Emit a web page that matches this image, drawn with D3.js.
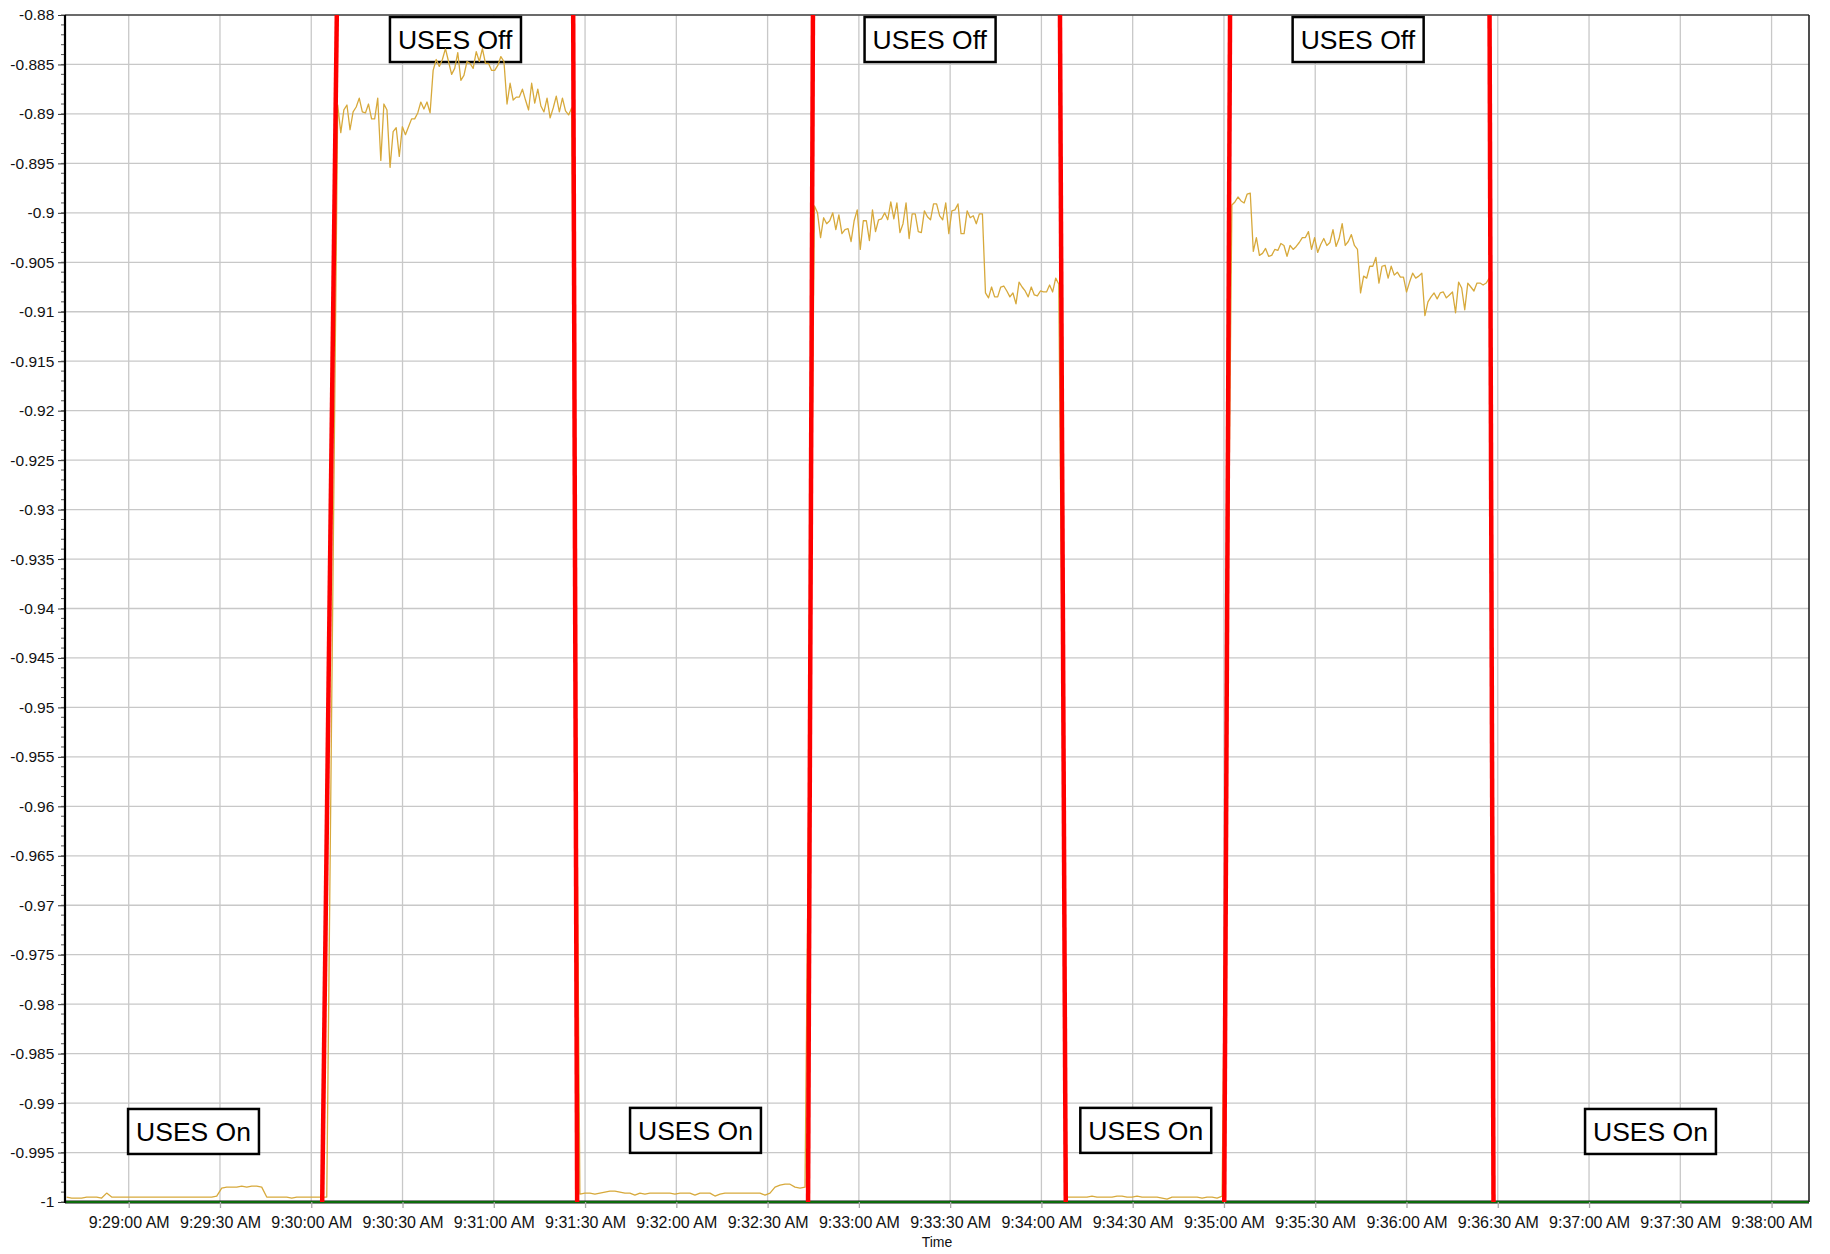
<!DOCTYPE html>
<head>
<meta charset="utf-8">
<script src="https://d3js.org/d3.v7.min.js"></script>
<style>
body { margin: 0; background: #fff; font-family: "Liberation Sans", Arial, sans-serif; }
</style>
</head>
<body>
<svg></svg>
<script>
    // all times are seconds after 9:29:00 AM
    var segStart = [-20.4, 68.7, 148.3, 225.4, 308.4, 362.6];
    var segEnd   = [65.1, 145.6, 222.3, 305.7, 359.4, 447.2];

    var usesOn1 = [-0.9995, -0.9996, -0.9996, -0.9996, -0.9995, -0.9995, -0.9995, -0.9996, -0.9991, -0.9995, -0.9995,
        -0.9995, -0.9995, -0.9995, -0.9995, -0.9995, -0.9995, -0.9995, -0.9995, -0.9995, -0.9995,
        -0.9995, -0.9995, -0.9995, -0.9995, -0.9995, -0.9995, -0.9995, -0.9995, -0.9995,
        -0.9994, -0.9986, -0.9985, -0.9985, -0.9985, -0.9984, -0.9985, -0.9984, -0.9984, -0.9985,
        -0.9995, -0.9995, -0.9995, -0.9995, -0.9995, -0.9996, -0.9995, -0.9995, -0.9995, -0.9995, -0.9995, -0.9995, -0.9995];
    var usesOff1 = [-0.8891, -0.8919, -0.8896, -0.8891, -0.8916, -0.8898, -0.8893, -0.8884, -0.8898, -0.8899,
        -0.8890, -0.8905, -0.8905, -0.8884, -0.8947, -0.8890, -0.8896, -0.8954, -0.8918, -0.8914,
        -0.8943, -0.8913, -0.8921, -0.8913, -0.8905, -0.8905, -0.8899, -0.8888, -0.8895, -0.8888,
        -0.8899, -0.8856, -0.8845, -0.8852, -0.8845, -0.8834, -0.8847, -0.8860, -0.8854, -0.8838,
        -0.8866, -0.8861, -0.8847, -0.8849, -0.8854, -0.8837, -0.8847, -0.8834, -0.8849, -0.8849,
        -0.8856, -0.8856, -0.8851, -0.8842, -0.8847, -0.8890, -0.8869, -0.8886, -0.8883, -0.8883,
        -0.8875, -0.8886, -0.8896, -0.8869, -0.8889, -0.8875, -0.8892, -0.8898, -0.8884, -0.8904,
        -0.8894, -0.8882, -0.8898, -0.8884, -0.8897, -0.8901, -0.8894];
    var usesOn2 = [-0.9992, -0.9991, -0.9991, -0.9992, -0.9991, -0.9990, -0.9989, -0.9989, -0.9990, -0.9991,
        -0.9991, -0.9993, -0.9991, -0.9992, -0.9991, -0.9991, -0.9991, -0.9991, -0.9991, -0.9992,
        -0.9991, -0.9991, -0.9991, -0.9993, -0.9991, -0.9991, -0.9991, -0.9994, -0.9992, -0.9991,
        -0.9991, -0.9991, -0.9991, -0.9991, -0.9991, -0.9991, -0.9991, -0.9993, -0.9991, -0.9985,
        -0.9983, -0.9982, -0.9982, -0.9985, -0.9986, -0.9985];
    var usesOff2 = [-0.8993, -0.9000, -0.9025, -0.9005, -0.9011, -0.9008, -0.9000, -0.9017, -0.9002, -0.9021,
        -0.9017, -0.9016, -0.9029, -0.9008, -0.8997, -0.9037, -0.9008, -0.9008, -0.9028, -0.8997,
        -0.9019, -0.9007, -0.9006, -0.9000, -0.9007, -0.8989, -0.9006, -0.8990, -0.9020, -0.9011,
        -0.8990, -0.9026, -0.9001, -0.9001, -0.9019, -0.9020, -0.8998, -0.9004, -0.9007, -0.8991,
        -0.8991, -0.9003, -0.9007, -0.8990, -0.9021, -0.8998, -0.8997, -0.8991, -0.9021, -0.9021,
        -0.8998, -0.9005, -0.9003, -0.9011, -0.9001, -0.9001, -0.9081, -0.9086, -0.9075, -0.9085,
        -0.9085, -0.9075, -0.9074, -0.9079, -0.9085, -0.9081, -0.9092, -0.9070, -0.9075, -0.9079,
        -0.9085, -0.9075, -0.9083, -0.9084, -0.9079, -0.9080, -0.9080, -0.9073, -0.9080, -0.9066,
        -0.9072];
    var usesOn3 = [-0.9995, -0.9995, -0.9995, -0.9995, -0.9995, -0.9994, -0.9995, -0.9995, -0.9995, -0.9995,
        -0.9994, -0.9994, -0.9995, -0.9995, -0.9994, -0.9995, -0.9995, -0.9995, -0.9995, -0.9996,
        -0.9997, -0.9995, -0.9995, -0.9995, -0.9995, -0.9995, -0.9995, -0.9996, -0.9995, -0.9995,
        -0.9996, -0.9994];
    var usesOff3 = [-0.8992, -0.8989, -0.8984, -0.8988, -0.8990, -0.8981, -0.8980, -0.9039, -0.9025, -0.9043,
        -0.9041, -0.9036, -0.9044, -0.9043, -0.9037, -0.9038, -0.9031, -0.9033, -0.9044, -0.9033,
        -0.9037, -0.9034, -0.9030, -0.9025, -0.9025, -0.9019, -0.9037, -0.9025, -0.9040, -0.9032,
        -0.9026, -0.9033, -0.9030, -0.9017, -0.9034, -0.9026, -0.9011, -0.9033, -0.9029, -0.9022,
        -0.9033, -0.9037, -0.9081, -0.9064, -0.9066, -0.9054, -0.9054, -0.9045, -0.9071, -0.9054,
        -0.9053, -0.9066, -0.9054, -0.9063, -0.9060, -0.9065, -0.9065, -0.9080, -0.9070, -0.9061,
        -0.9066, -0.9064, -0.9061, -0.9104, -0.9090, -0.9085, -0.9081, -0.9087, -0.9081, -0.9080,
        -0.9086, -0.9083, -0.9080, -0.9101, -0.9070, -0.9076, -0.9098, -0.9071, -0.9075, -0.9079,
        -0.9071, -0.9071, -0.9073, -0.9071, -0.9066];
    var segValues = [usesOn1, usesOff1, usesOn2, usesOff2, usesOn3, usesOff3];

    // flat series along the bottom of the plot
    var baseTime = [-20.94, 552.3];
    var baseValue = [-1, -1];

    // hand drawn switch markers (time at top, time at bottom)
    var switchTop    = [68.4, 146.1, 224.9, 306.1, 362.0, 447.3];
    var switchBottom = [63.6, 147.4, 223.3, 308.0, 360.1, 448.6];

    var noteText  = ["USES On", "USES Off", "USES On", "USES Off", "USES On", "USES Off", "USES On"];
    var noteTime  = [21.3, 107.3, 186.3, 263.3, 334.3, 404.0, 500.2];
    var noteValue = [-0.99287, -0.88248, -0.99276, -0.88248, -0.99276, -0.88248, -0.99287];

    var width = 1830, height = 1254;
    var plotLeft = 65, plotTop = 15, plotRight = 1809, plotBottom = 1202;

    var t0 = new Date(2000, 0, 1, 9, 29, 0);
    function at(s) { return new Date(t0.getTime() + s * 1000); }

    var x = d3.scaleTime().domain([at(baseTime[0]), at(baseTime[1])]).range([plotLeft, plotRight]);
    var y = d3.scaleLinear().domain([-1, -0.88]).range([plotBottom, plotTop]);

    var svg = d3.select('svg').attr('width', width).attr('height', height);

    var xTicks = x.ticks(d3.timeSecond.every(30));
    var yTicks = y.ticks(24);

    // grid
    svg.append('g').selectAll('line').data(yTicks).enter().append('line')
        .attr('x1', plotLeft).attr('x2', plotRight)
        .attr('y1', function(d) { return y(d); }).attr('y2', function(d) { return y(d); })
        .style('stroke', '#c8c8c8').style('stroke-width', 1.3);
    svg.append('g').selectAll('line').data(xTicks).enter().append('line')
        .attr('x1', function(d) { return x(d); }).attr('x2', function(d) { return x(d); })
        .attr('y1', plotTop).attr('y2', plotBottom)
        .style('stroke', '#c8c8c8').style('stroke-width', 1.3);

    // note boxes (data is drawn over them)
    var notes = svg.append('g').selectAll('g').data(noteText).enter().append('g')
        .attr('transform', function(d, i) { return 'translate(' + x(at(noteTime[i])) + ',' + y(noteValue[i]) + ')'; });
    notes.append('rect');
    notes.append('text')
        .attr('text-anchor', 'middle').attr('dy', '0.36em')
        .style('font-size', '26.5px').style('fill', '#000')
        .text(function(d) { return d; });
    notes.each(function() {
        var g = d3.select(this);
        var bb = g.select('text').node().getBBox();
        g.select('rect')
            .attr('x', bb.x - 8).attr('width', bb.width + 16)
            .attr('y', -22.5).attr('height', 45)
            .style('fill', '#fff').style('stroke', '#000').style('stroke-width', 2.5);
    });

    // measured series
    var points = [];
    segValues.forEach(function(vals, s) {
        var step = (segEnd[s] - segStart[s]) / (vals.length - 1);
        vals.forEach(function(v, i) { points.push({t: at(segStart[s] + i * step), v: v}); });
    });
    var line = d3.line().x(function(d) { return x(d.t); }).y(function(d) { return y(d.v); });
    svg.append('path').datum(points)
        .attr('d', line)
        .style('fill', 'none').style('stroke', '#d7a93b').style('stroke-width', 1.3)
        .style('stroke-linejoin', 'round');

    // bottom series
    var base = baseTime.map(function(t, i) { return {t: at(t), v: baseValue[i]}; });
    svg.append('path').datum(base).attr('d', line)
        .style('fill', 'none').style('stroke', '#111').style('stroke-width', 3.2);
    svg.append('path').datum(base).attr('d', line)
        .style('fill', 'none').style('stroke', '#0b8a0b').style('stroke-width', 1.5);

    // y axis
    var yAxis = d3.axisLeft(y).tickValues(yTicks).tickSize(7).tickSizeOuter(0).tickPadding(3.7)
        .tickFormat(function(d) { return String(+d.toFixed(4)); });
    var gy = svg.append('g').attr('transform', 'translate(' + plotLeft + ',0)').call(yAxis);
    gy.select('.domain').remove();
    gy.selectAll('line').style('stroke', '#333');
    gy.selectAll('text').style('font-size', '15.5px').style('font-family', '"Liberation Sans", Arial, sans-serif').style('fill', '#111');
    gy.selectAll('.minor').data(y.ticks(120)).enter().append('line').attr('class', 'minor')
        .attr('x1', -4).attr('x2', 0)
        .attr('y1', function(d) { return y(d); }).attr('y2', function(d) { return y(d); })
        .style('stroke', '#555');

    // x axis
    var xAxis = d3.axisBottom(x).tickValues(xTicks).tickSize(6).tickSizeOuter(0).tickPadding(8.6)
        .tickFormat(d3.timeFormat('%-I:%M:%S %p'));
    var gx = svg.append('g').attr('transform', 'translate(0,' + plotBottom + ')').call(xAxis);
    gx.select('.domain').remove();
    gx.selectAll('line').style('stroke', '#aaa').style('stroke-width', 1.3);
    gx.selectAll('text').style('font-size', '16px').style('font-family', '"Liberation Sans", Arial, sans-serif').style('fill', '#111');

    svg.append('text')
        .attr('x', (plotLeft + plotRight) / 2).attr('y', plotBottom + 45)
        .attr('text-anchor', 'middle')
        .style('font-size', '14px').style('fill', '#111')
        .text('Time');

    // frame
    svg.append('line').attr('x1', plotLeft).attr('x2', plotRight).attr('y1', plotTop).attr('y2', plotTop)
        .style('stroke', '#000').style('stroke-width', 1.2);
    svg.append('line').attr('x1', plotRight).attr('x2', plotRight).attr('y1', plotTop).attr('y2', plotBottom)
        .style('stroke', '#222').style('stroke-width', 1.6);
    svg.append('line').attr('x1', plotLeft).attr('x2', plotLeft).attr('y1', plotTop).attr('y2', plotBottom + 1)
        .style('stroke', '#000').style('stroke-width', 2.2);

    // switch markers
    svg.append('g').selectAll('line').data(switchTop).enter().append('line')
        .attr('x1', function(d) { return x(at(d)); })
        .attr('y1', y(-0.88))
        .attr('x2', function(d, i) { return x(at(switchBottom[i])); })
        .attr('y2', y(-1))
        .style('stroke', '#ff0000').style('stroke-width', 4.5);
</script>
</body>
